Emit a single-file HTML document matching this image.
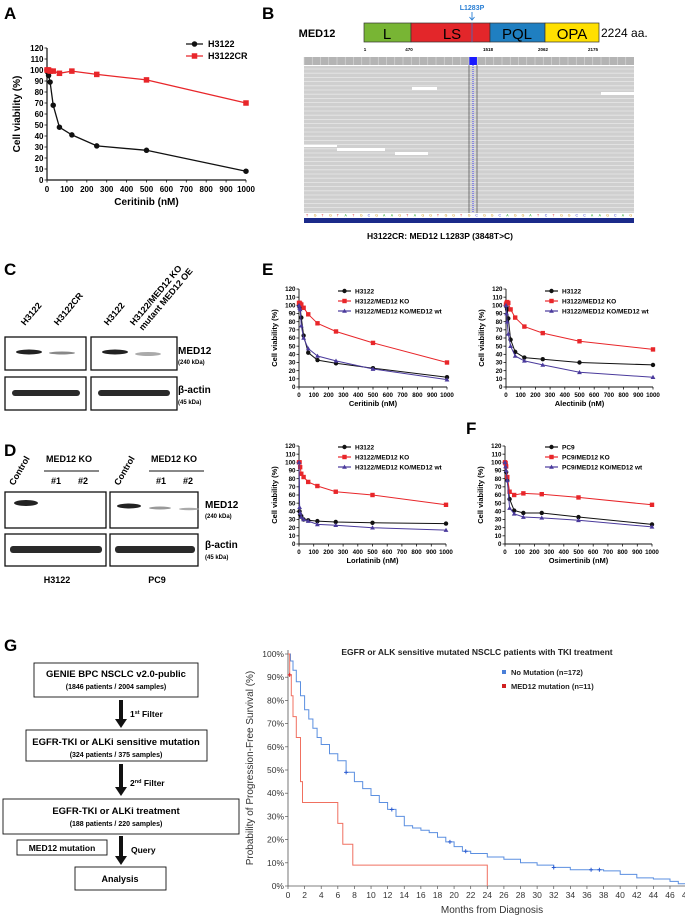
<!DOCTYPE html>
<html><head><meta charset="utf-8"><style>
html,body{margin:0;padding:0;background:#fff;}
svg{display:block;font-family:"Liberation Sans",Arial,sans-serif;}
.b{font-weight:bold;}
</style></head><body>
<svg id="fig" width="685" height="917" viewBox="0 0 685 917" xmlns="http://www.w3.org/2000/svg">
<text x="4" y="19" font-size="17" class="b">A</text>
<text x="262" y="19" font-size="17" class="b">B</text>
<text x="4" y="275" font-size="17" class="b">C</text>
<text x="262" y="275" font-size="17" class="b">E</text>
<text x="4" y="456" font-size="17" class="b">D</text>
<text x="466" y="434" font-size="17" class="b">F</text>
<text x="4" y="651" font-size="17" class="b">G</text>

<g>
<text x="317" y="37" font-size="11" class="b" text-anchor="middle">MED12</text>
<rect x="364" y="23" width="47" height="19" fill="#78b534" stroke="#333" stroke-width="0.7"/>
<rect x="411" y="23" width="79" height="19" fill="#e3262a" stroke="#333" stroke-width="0.7"/>
<rect x="490" y="23" width="55" height="19" fill="#1f7fc1" stroke="#333" stroke-width="0.7"/>
<rect x="545" y="23" width="54" height="19" fill="#ffe000" stroke="#333" stroke-width="0.7"/>
<text x="387" y="39" font-size="15" text-anchor="middle">L</text>
<text x="452" y="39" font-size="15" text-anchor="middle">LS</text>
<text x="517" y="39" font-size="15" text-anchor="middle">PQL</text>
<text x="572" y="39" font-size="15" text-anchor="middle">OPA</text>
<text x="601" y="37" font-size="12">2224 aa.</text>
<line x1="472" y1="23" x2="472" y2="42" stroke="#3a70c8" stroke-width="0.8"/>
<text x="472" y="10" font-size="7" fill="#2a7fd4" class="b" text-anchor="middle">L1283P</text>
<path d="M472 12 V20 M469.5 17 L472 20 L474.5 17" stroke="#2a7fd4" fill="none" stroke-width="0.9"/>
<g font-size="4.5" class="b" text-anchor="middle">
<text x="365" y="51">1</text><text x="409" y="51">470</text><text x="488" y="51">1518</text><text x="543" y="51">2062</text><text x="593" y="51">2175</text></g>
</g>
<g id="reads">
<rect x="304" y="57" width="330" height="8" fill="#b4b4b4"/>
<rect x="304" y="66" width="330" height="147" fill="#cfcfcf"/>
<rect x="469" y="57" width="8" height="8" fill="#1a1aff"/>
<rect x="412" y="87" width="25" height="3" fill="#fff"/>
<rect x="601" y="92" width="33" height="3" fill="#fff"/>
<rect x="304" y="145" width="33" height="2" fill="#fff"/>
<rect x="337" y="148" width="48" height="3" fill="#fff"/>
<rect x="395" y="152" width="33" height="3" fill="#fff"/>
<line x1="469" y1="65" x2="469" y2="213" stroke="#333" stroke-width="0.6"/>
<line x1="477" y1="65" x2="477" y2="213" stroke="#333" stroke-width="0.6"/>
<line x1="473" y1="65" x2="473" y2="213" stroke="#5a5af0" stroke-width="1.2" stroke-dasharray="1,1"/>
<rect x="304" y="218" width="330" height="5" fill="#1b2a8a"/>
<text x="440" y="239" font-size="8.5" class="b" text-anchor="middle">H3122CR: MED12 L1283P (3848T&gt;C)</text>
</g>

<g>
<g font-size="9" class="b">
<text transform="translate(25,326) rotate(-50)">H3122</text>
<text transform="translate(58,326) rotate(-50)">H3122CR</text>
<text transform="translate(108,326) rotate(-50)">H3122</text>
<text transform="translate(134,326) rotate(-50)">H3122/MED12 KO</text>
<text transform="translate(143,331) rotate(-50)">mutant MED12 OE</text>
</g>
<rect x="5" y="337" width="81" height="33" fill="#fff" stroke="#111" stroke-width="1.3"/>
<rect x="91" y="337" width="86" height="33" fill="#fff" stroke="#111" stroke-width="1.3"/>
<rect x="5" y="377" width="81" height="33" fill="#fff" stroke="#111" stroke-width="1.3"/>
<rect x="91" y="377" width="86" height="33" fill="#fff" stroke="#111" stroke-width="1.3"/>
<ellipse cx="29" cy="352" rx="13" ry="2.5" fill="#222"/>
<ellipse cx="62" cy="353" rx="13" ry="1.5" fill="#888"/>
<ellipse cx="115" cy="352" rx="13" ry="2.5" fill="#222"/>
<ellipse cx="148" cy="354" rx="13" ry="2" fill="#aaa"/>
<rect x="12" y="390" width="68" height="6" rx="3" fill="#2a2a2a"/>
<rect x="98" y="390" width="72" height="6" rx="3" fill="#2a2a2a"/>
<text x="178" y="354" font-size="10" class="b">MED12</text>
<text x="178" y="364" font-size="6" class="b">(240 kDa)</text>
<text x="178" y="393" font-size="10" class="b">β-actin</text>
<text x="178" y="404" font-size="6" class="b">(45 kDa)</text>
</g>

<g>
<g font-size="9" class="b">
<text transform="translate(14,486) rotate(-60)">Control</text>
<text transform="translate(119,486) rotate(-60)">Control</text>
<text x="46" y="462">MED12 KO</text>
<text x="151" y="462">MED12 KO</text>
<text x="51" y="484">#1</text><text x="78" y="484">#2</text>
<text x="156" y="484">#1</text><text x="183" y="484">#2</text>
</g>
<line x1="44" y1="471" x2="99" y2="471" stroke="#111" stroke-width="1"/>
<line x1="149" y1="471" x2="204" y2="471" stroke="#111" stroke-width="1"/>
<rect x="5" y="492" width="101" height="36" fill="#fff" stroke="#111" stroke-width="1.3"/>
<rect x="110" y="492" width="88" height="36" fill="#fff" stroke="#111" stroke-width="1.3"/>
<rect x="5" y="534" width="101" height="32" fill="#fff" stroke="#111" stroke-width="1.3"/>
<rect x="110" y="534" width="88" height="32" fill="#fff" stroke="#111" stroke-width="1.3"/>
<ellipse cx="26" cy="503" rx="12" ry="3" fill="#222"/>
<ellipse cx="129" cy="506" rx="12" ry="2.5" fill="#222"/>
<ellipse cx="160" cy="508" rx="11" ry="1.5" fill="#999"/>
<ellipse cx="189" cy="509" rx="10" ry="1.3" fill="#aaa"/>
<rect x="10" y="546" width="92" height="7" rx="3" fill="#2a2a2a"/>
<rect x="115" y="546" width="80" height="7" rx="3" fill="#2a2a2a"/>
<text x="205" y="508" font-size="10" class="b">MED12</text>
<text x="205" y="518" font-size="6" class="b">(240 kDa)</text>
<text x="205" y="548" font-size="10" class="b">β-actin</text>
<text x="205" y="559" font-size="6" class="b">(45 kDa)</text>
<text x="57" y="583" font-size="9" class="b" text-anchor="middle">H3122</text>
<text x="157" y="583" font-size="9" class="b" text-anchor="middle">PC9</text>
</g>

<g class="b">
<rect x="34" y="663" width="164" height="34" fill="#fff" stroke="#111" stroke-width="0.9"/>
<text x="116" y="677" font-size="9.5" text-anchor="middle">GENIE BPC NSCLC v2.0-public</text>
<text x="116" y="689" font-size="7" text-anchor="middle">(1846 patients / 2004 samples)</text>
<rect x="26" y="730" width="181" height="31" fill="#fff" stroke="#111" stroke-width="0.9"/>
<text x="116" y="745" font-size="9.5" text-anchor="middle">EGFR-TKI or ALKi sensitive mutation</text>
<text x="116" y="757" font-size="7" text-anchor="middle">(324 patients / 375 samples)</text>
<rect x="3" y="799" width="236" height="35" fill="#fff" stroke="#111" stroke-width="0.9"/>
<text x="116" y="814" font-size="9.5" text-anchor="middle">EGFR-TKI  or ALKi treatment</text>
<text x="116" y="826" font-size="7" text-anchor="middle">(188 patients / 220 samples)</text>
<rect x="17" y="840" width="90" height="15" fill="#fff" stroke="#111" stroke-width="0.9"/>
<text x="62" y="851" font-size="8.5" text-anchor="middle">MED12 mutation</text>
<rect x="75" y="867" width="91" height="23" fill="#fff" stroke="#111" stroke-width="0.9"/>
<text x="120" y="882" font-size="9" text-anchor="middle">Analysis</text>
<g fill="#111">
<rect x="119" y="700" width="4" height="20"/><path d="M115 719 H127 L121 728Z"/>
<rect x="119" y="764" width="4" height="24"/><path d="M115 787 H127 L121 796Z"/>
<rect x="119" y="836" width="4" height="21"/><path d="M115 856 H127 L121 865Z"/>
</g>
<text x="130" y="717" font-size="8.5">1<tspan font-size="5.5" dy="-3">st</tspan><tspan dy="3"> Filter</tspan></text>
<text x="130" y="786" font-size="8.5">2<tspan font-size="5.5" dy="-3">nd</tspan><tspan dy="3"> Filter</tspan></text>
<text x="131" y="853" font-size="8.5">Query</text>
</g>
<g id="charts"></g>
</svg>
<script>
const doses = [0, 3.9, 7.8, 15.6, 31.25, 62.5, 125, 250, 500, 1000];
const aH3122 = [100, 98, 95, 89, 68, 48, 41, 31, 27, 8];
const aH3122CR = [100, 100, 100, 99, 99, 97, 99, 96, 91, 70];
const ceritinibH3122 = [100, 98, 96, 85, 63, 42, 33, 29, 23, 12];
const ceritinibKO = [103, 103, 102, 101, 97, 89, 78, 68, 54, 30];
const ceritinibWT = [100, 97, 95, 75, 60, 47, 38, 32, 22, 9];
const alectinibH3122 = [100, 98, 95, 84, 58, 43, 36, 34, 30, 27];
const alectinibKO = [101, 103, 104, 103, 95, 85, 74, 66, 56, 46];
const alectinibWT = [100, 90, 80, 65, 50, 38, 32, 27, 18, 12];
const lorlatinibH3122 = [100, 40, 36, 34, 30, 29, 28, 27, 26, 25];
const lorlatinibKO = [100, 100, 94, 86, 82, 76, 71, 64, 60, 48];
const lorlatinibWT = [100, 45, 38, 33, 30, 28, 24, 23, 20, 17];
const osimPC9 = [100, 98, 88, 78, 55, 41, 38, 38, 33, 24];
const osimKO = [100, 99, 95, 82, 64, 60, 62, 61, 57, 48];
const osimWT = [100, 95, 90, 78, 44, 37, 33, 32, 29, 21];
const viabilityTicks = [0,10,20,30,40,50,60,70,80,90,100,110,120];
const doseTicks = [0,100,200,300,400,500,600,700,800,900,1000];
const kmNoMutMonths = [0,0.3,0.6,1,1.5,2,2.5,3,3.5,4,5,6,7,8,9,10,11,12,13,14,15,16,17,18,19,20,21,22,24,26,28,30,32,34,38,40,42,44,46,47,48];
const kmNoMutSurv = [100,97,93,88,82,76,72,68,64,61,57,54,49,45,42,39,36,33,30,26,25,24,23,21,19,17,15,14,12.5,11.5,10,9,8,7,6.5,5,3.5,3,2,1,1];
const kmNoMutCensorMonths = [7,12.5,19.5,21.4,32,36.5,37.5];
const kmMedMonths = [0,0.2,0.4,0.6,1.0,1.5,1.75,6.0,6.6,7.8,24.0];
const kmMedSurv = [100,91,82,73,64,45,36,27,18,9,0];
const kmTicksX = [0,2,4,6,8,10,12,14,16,18,20,22,24,26,28,30,32,34,36,38,40,42,44,46,48];
const kmTicksY = [0,10,20,30,40,50,60,70,80,90,100];

const NS = 'http://www.w3.org/2000/svg';
const root = document.getElementById('charts');
function mk(tag, attrs, parent) {
  const e = document.createElementNS(NS, tag);
  for (const k in attrs) e.setAttribute(k, attrs[k]);
  (parent || root).appendChild(e);
  return e;
}
function marker(g, type, x, y, color, s) {
  let m;
  if (type === 'circle') m = mk('circle', {cx:x, cy:y, r:s*0.55, fill:color}, g);
  else if (type === 'square') m = mk('rect', {x:x-s*0.55, y:y-s*0.55, width:s*1.1, height:s*1.1, fill:color}, g);
  else m = mk('path', {d:`M${x} ${y-s*0.6} L${x+s*0.6} ${y+s*0.45} L${x-s*0.6} ${y+s*0.45}Z`, fill:color}, g);
  
  
}
function drPlot(name, box, series, xlabel, legendX, legendY, big) {
  const g = mk('g', {});
  
  
  const sx = v => box.x0 + (v/1000)*(box.x1-box.x0);
  const sy = v => box.y0 - (v/120)*(box.y0-box.y1);
  const fs = big ? 8 : 6.2;
  const ms = big ? 5 : 4;
  mk('path', {d:`M${box.x0} ${box.y1} V${box.y0} H${box.x1}`, stroke:'#111', fill:'none', 'stroke-width':big?1.2:0.9}, g);
  viabilityTicks.forEach(t => {
    mk('line', {x1:box.x0-2.5, x2:box.x0, y1:sy(t), y2:sy(t), stroke:'#111', 'stroke-width':0.8}, g);
    const tx = mk('text', {x:box.x0-3.5, y:sy(t)+fs*0.35, 'font-size':fs, 'text-anchor':'end', 'font-weight':'bold'}, g);
    tx.textContent = t;
  });
  doseTicks.forEach(t => {
    mk('line', {x1:sx(t), x2:sx(t), y1:box.y0, y2:box.y0+2.5, stroke:'#111', 'stroke-width':0.8}, g);
    const tx = mk('text', {x:sx(t), y:box.y0+4+fs, 'font-size':fs, 'text-anchor':'middle', 'font-weight':'bold'}, g);
    tx.textContent = t;
  });
  const xt = mk('text', {x:(box.x0+box.x1)/2, y:box.y0+(big?25:19), 'font-size':big?10:7.5, 'text-anchor':'middle', 'font-weight':'bold'}, g);
  
  
  xt.textContent = xlabel;
  const yx = box.x0 - (big?27:22), yy = (box.y0+box.y1)/2;
  const yt = mk('text', {x:yx, y:yy, transform:`rotate(-90 ${yx} ${yy})`, 'font-size':big?10:7.5, 'text-anchor':'middle', 'font-weight':'bold'}, g);
  
  
  yt.textContent = 'Cell viability (%)';
  series.forEach((s, i) => {
    const pts = doses.map((d, j) => `${sx(d).toFixed(1)},${sy(s.vals[j]).toFixed(1)}`).join(' ');
    const pl = mk('polyline', {points:pts, fill:'none', stroke:s.color, 'stroke-width':big?1.3:1}, g);
    
    
    doses.forEach((d, j) => marker(g, s.marker, sx(d), sy(s.vals[j]), s.color, ms));
    const ly = legendY + i*(big?12:10);
    mk('line', {x1:legendX, x2:legendX+(big?17:13), y1:ly, y2:ly, stroke:s.color, 'stroke-width':1.2}, g);
    marker(g, s.marker, legendX+(big?8.5:6.5), ly, s.color, ms);
    const lt = mk('text', {x:legendX+(big?22:17), y:ly+fs*0.38, 'font-size':big?9:6.5, 'font-weight':'bold'}, g);
    
    
    lt.textContent = s.label;
  });
}
const BLK='#111', RED='#e8262a', PUR='#4a3a9c';
drPlot('panel-a-chart', {x0:47, x1:246, y0:180, y1:48}, [
  {vals:aH3122, color:BLK, marker:'circle', label:'H3122'},
  {vals:aH3122CR, color:RED, marker:'square', label:'H3122CR'}], 'Ceritinib (nM)', 186, 44, true);
const lbl3 = ['H3122','H3122/MED12 KO','H3122/MED12 KO/MED12 wt'];
drPlot('ceritinib-chart', {x0:299, x1:447, y0:387, y1:289}, [
  {vals:ceritinibH3122, color:BLK, marker:'circle', label:lbl3[0]},
  {vals:ceritinibKO, color:RED, marker:'square', label:lbl3[1]},
  {vals:ceritinibWT, color:PUR, marker:'triangle', label:lbl3[2]}], 'Ceritinib (nM)', 338, 291, false);
drPlot('alectinib-chart', {x0:506, x1:653, y0:387, y1:289}, [
  {vals:alectinibH3122, color:BLK, marker:'circle', label:lbl3[0]},
  {vals:alectinibKO, color:RED, marker:'square', label:lbl3[1]},
  {vals:alectinibWT, color:PUR, marker:'triangle', label:lbl3[2]}], 'Alectinib (nM)', 545, 291, false);
drPlot('lorlatinib-chart', {x0:299, x1:446, y0:544, y1:446}, [
  {vals:lorlatinibH3122, color:BLK, marker:'circle', label:lbl3[0]},
  {vals:lorlatinibKO, color:RED, marker:'square', label:lbl3[1]},
  {vals:lorlatinibWT, color:PUR, marker:'triangle', label:lbl3[2]}], 'Lorlatinib (nM)', 338, 447, false);
drPlot('osimertinib-chart', {x0:505, x1:652, y0:544, y1:446}, [
  {vals:osimPC9, color:BLK, marker:'circle', label:'PC9'},
  {vals:osimKO, color:RED, marker:'square', label:'PC9/MED12 KO'},
  {vals:osimWT, color:PUR, marker:'triangle', label:'PC9/MED12 KO/MED12 wt'}], 'Osimertinib (nM)', 545, 447, false);

(function(){
  const g = mk('g', {});
  
  
  const x0 = 288, y0 = 886, pxm = 8.304, pyp = 2.32;
  const sx = m => x0 + m*pxm, sy = p => y0 - p*pyp;
  mk('path', {d:`M${x0} ${sy(100)-4} V${y0} H685`, stroke:'#555', fill:'none', 'stroke-width':0.8}, g);
  kmTicksY.forEach(t => {
    mk('line', {x1:x0-3, x2:x0, y1:sy(t), y2:sy(t), stroke:'#555', 'stroke-width':0.7}, g);
    const tx = mk('text', {x:x0-4, y:sy(t)+3, 'font-size':8.5, 'text-anchor':'end', fill:'#333'}, g);
    tx.textContent = t + '%';
  });
  kmTicksX.forEach(t => {
    mk('line', {x1:sx(t), x2:sx(t), y1:y0, y2:y0+3, stroke:'#555', 'stroke-width':0.7}, g);
    const tx = mk('text', {x:sx(t), y:y0+12, 'font-size':8.5, 'text-anchor':'middle', fill:'#333'}, g);
    tx.textContent = t;
  });
  const xt = mk('text', {x:492, y:913, 'font-size':10, 'text-anchor':'middle', fill:'#333'}, g);
  
  
  xt.textContent = 'Months from Diagnosis';
  const yt = mk('text', {x:253, y:768, transform:'rotate(-90 253 768)', 'font-size':10, 'text-anchor':'middle', fill:'#333'}, g);
  
  
  yt.textContent = 'Probability of Progression-Free Survival (%)';
  const tt = mk('text', {x:477, y:655, 'font-size':8.5, 'text-anchor':'middle', 'font-weight':'bold', fill:'#222'}, g);
  
  
  tt.textContent = 'EGFR or ALK sensitive mutated NSCLC patients with TKI treatment';
  function step(months, surv) {
    let d = `M${sx(months[0])} ${sy(surv[0])}`;
    for (let i = 1; i < months.length; i++) d += ` H${sx(months[i]).toFixed(1)} V${sy(surv[i]).toFixed(1)}`;
    return d;
  }
  const bl = mk('path', {d:step(kmNoMutMonths, kmNoMutSurv), fill:'none', stroke:'#5b8fe0', 'stroke-width':1}, g);
  
  
  const rd = mk('path', {d:step(kmMedMonths, kmMedSurv), fill:'none', stroke:'#f07060', 'stroke-width':1}, g);
  
  
  function survAt(m) { let s = 100; for (let i = 0; i < kmNoMutMonths.length; i++) if (kmNoMutMonths[i] <= m) s = kmNoMutSurv[i]; return s; }
  kmNoMutCensorMonths.forEach(m => {
    const x = sx(m), y = sy(survAt(m));
    const c = mk('path', {d:`M${x-2} ${y} H${x+2} M${x} ${y-2} V${y+2}`, stroke:'#2a5ad0', 'stroke-width':1}, g);
    
    
  });
  const rc = mk('path', {d:`M${sx(0.2)-2} ${sy(91)} h4 M${sx(0.2)} ${sy(91)-2} v4`, stroke:'#e02020', 'stroke-width':1}, g);
  
  
  mk('rect', {x:502, y:670, width:4, height:4, fill:'#4a7fd8'}, g);
  mk('rect', {x:502, y:684, width:4, height:4, fill:'#d02020'}, g);
  const l1 = mk('text', {x:511, y:675, 'font-size':7.5, 'font-weight':'bold', fill:'#222'}, g);
  
  
  l1.textContent = 'No Mutation (n=172)';
  const l2 = mk('text', {x:511, y:689, 'font-size':7.5, 'font-weight':'bold', fill:'#222'}, g);
  
  
  l2.textContent = 'MED12 mutation (n=11)';
})();

(function(){
  const r = document.getElementById('reads');
  for (let y = 69; y < 213; y += 4.2) {
    const l = document.createElementNS(NS, 'line');
    l.setAttribute('x1', 304); l.setAttribute('x2', 634); l.setAttribute('y1', y); l.setAttribute('y2', y);
    l.setAttribute('stroke', '#e8e8e8'); l.setAttribute('stroke-width', 0.8);
    r.insertBefore(l, r.children[3]);
  }
  for (let x = 304; x < 634; x += 8.25) {
    const l = document.createElementNS(NS, 'line');
    l.setAttribute('x1', x); l.setAttribute('x2', x); l.setAttribute('y1', 57); l.setAttribute('y2', 65);
    l.setAttribute('stroke', '#ddd'); l.setAttribute('stroke-width', 0.6);
    r.appendChild(l);
  }
  const seq = 'TGTGTATGCGAAGTAGGTGGTGCGGCAGGATCTGGCCAAGCAG';
  const cols = {A:'#3a3', C:'#33c', G:'#c80', T:'#d33'};
  for (let i = 0; i < seq.length; i++) {
    const t = document.createElementNS(NS, 'text');
    t.setAttribute('x', 306 + i*7.7); t.setAttribute('y', 216.5);
    t.setAttribute('font-size', 3.5); t.setAttribute('fill', cols[seq[i]]);
    t.textContent = seq[i];
    r.appendChild(t);
  }
})();
</script>
</body></html>
